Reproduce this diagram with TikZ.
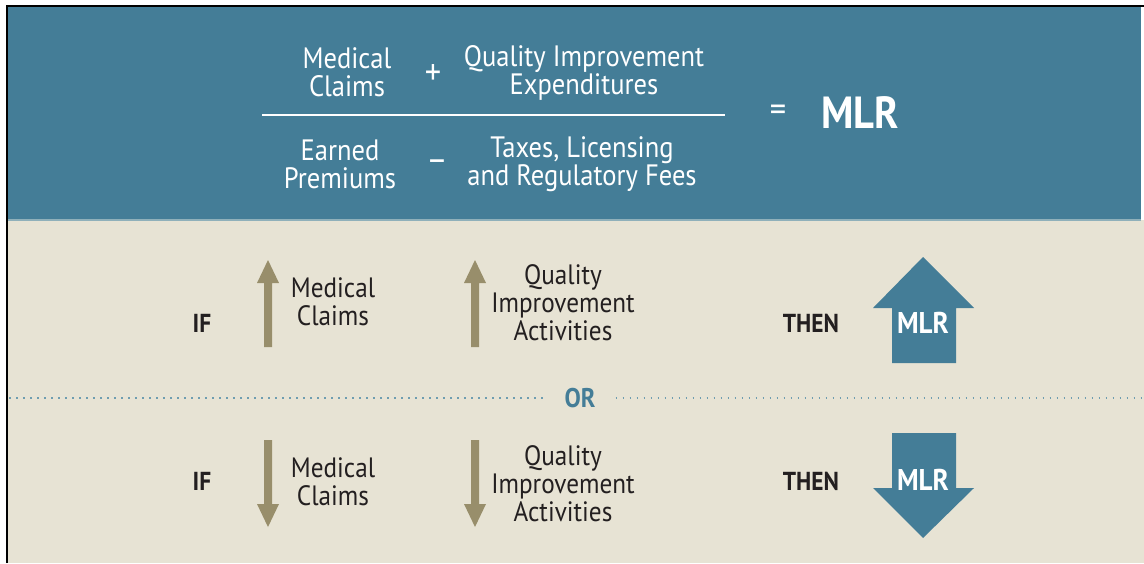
\documentclass[tikz,border=0pt]{standalone}
\usepackage{fontspec}
\setmainfont{PT Sans}[FakeStretch=0.9]
\definecolor{hdrblue}{HTML}{447D97}
\definecolor{bgbeige}{HTML}{E7E3D4}
\definecolor{tan}{HTML}{988E6B}
\definecolor{dotblue}{HTML}{6E9DB0}
\definecolor{sepline}{HTML}{8FB0BA}
\definecolor{ink}{HTML}{231F20}
\begin{document}
\begin{tikzpicture}[x=1pt,y=-1pt,
  hdrtext/.style={text=white,align=center,inner sep=0pt,font=\fontsize{29.5}{28}\selectfont},
  optext/.style={text=white,inner sep=0pt,font=\fontsize{36}{36}\selectfont},
  bodytext/.style={text=ink,align=center,inner sep=0pt,font=\fontsize{28}{28}\selectfont},
  kwtext/.style={text=ink,inner sep=0pt,font=\bfseries\fontsize{26}{28}\selectfont},
  mlrbig/.style={text=white,inner sep=0pt,font=\bfseries\fontsize{45}{46}\selectfont},
  mlrsmall/.style={text=white,inner sep=0pt,font=\bfseries\fontsize{30}{32}\selectfont},
  ortext/.style={text=hdrblue,inner sep=0pt,font=\bfseries\fontsize{27}{28}\selectfont},
  smallarrow/.style={fill=tan},
  bigarrow/.style={fill=hdrblue},
  dotline/.style={draw=dotblue,line width=1.5pt,dash pattern=on 1.5pt off 5.5pt}]
\useasboundingbox (0,0) rectangle (1144,563);
\fill[white] (0,0) rectangle (1144,563);
% panels
\fill[hdrblue] (7,7) rectangle (1141,220);
\fill[bgbeige] (7,220) rectangle (1144,563);
\draw[sepline,line width=2pt] (7,220) -- (1141,220);
% frame
\draw[black,line width=2pt] (6.5,563) -- (6.5,5.5) -- (1144,5.5);
% header formula
\node[hdrtext] (mc) at (347,72) {Medical\\Claims};
\node[optext] (plus) at (433,75) {+};
\node[hdrtext] (qie) at (584,73) {Quality Improvement\\Expenditures};
\node[hdrtext] (ep) at (340,164) {Earned\\Premiums};
\node[optext] (minus) at (437,166) {–};
\node[hdrtext] (tlrf) at (582,164) {Taxes, Licensing\\and Regulatory Fees};
\coordinate (fracl) at (262,115);
\coordinate (fracr) at (725,115);
\draw[white,line width=2pt] (fracl) -- (fracr);
\node[optext] (eq) at (778,113) {=};
\node[mlrbig] (mlr) at (860,113) {MLR};
% upper row
\node[kwtext] (if1) at (202,323) {IF};
\fill[smallarrow] (264,347) -- (264,283) -- (257,283) -- (268,260) -- (279,283) -- (272,283) -- (272,347) -- cycle;
\node[bodytext] (mc1) at (333,302) {Medical\\Claims};
\fill[smallarrow] (471,347) -- (471,283) -- (464,283) -- (475,260) -- (486,283) -- (479,283) -- (479,347) -- cycle;
\node[bodytext] (qia1) at (563,303) {Quality\\Improvement\\Activities};
\node[kwtext] (then1) at (811,323) {THEN};
\fill[bigarrow] (892,363) -- (892,308) -- (873,308) -- (923,257) -- (974,308) -- (956,308) -- (956,363) -- cycle;
\node[mlrsmall] (mlrup) at (923,323) {MLR};
% separator
\node[ortext] (or) at (580,398) {OR};
\coordinate (sepl) at (9,398);
\coordinate (sepr) at (1141,398);
\draw[dotline] (sepl) -- ([xshift=-17pt]or.west);
\draw[dotline] ([xshift=20pt]or.east) -- (sepr);
% lower row
\node[kwtext] (if2) at (202,481) {IF};
\fill[smallarrow] (264,440) -- (264,504) -- (257,504) -- (268,527) -- (279,504) -- (272,504) -- (272,440) -- cycle;
\node[bodytext] (mc2) at (333,482) {Medical\\Claims};
\fill[smallarrow] (471,440) -- (471,504) -- (464,504) -- (475,527) -- (486,504) -- (479,504) -- (479,440) -- cycle;
\node[bodytext] (qia2) at (563,484) {Quality\\Improvement\\Activities};
\node[kwtext] (then2) at (811,481) {THEN};
\fill[bigarrow] (892,433) -- (892,488) -- (873,488) -- (923,538) -- (974,488) -- (956,488) -- (956,433) -- cycle;
\node[mlrsmall] (mlrdn) at (923,480) {MLR};
\end{tikzpicture}
\end{document}
